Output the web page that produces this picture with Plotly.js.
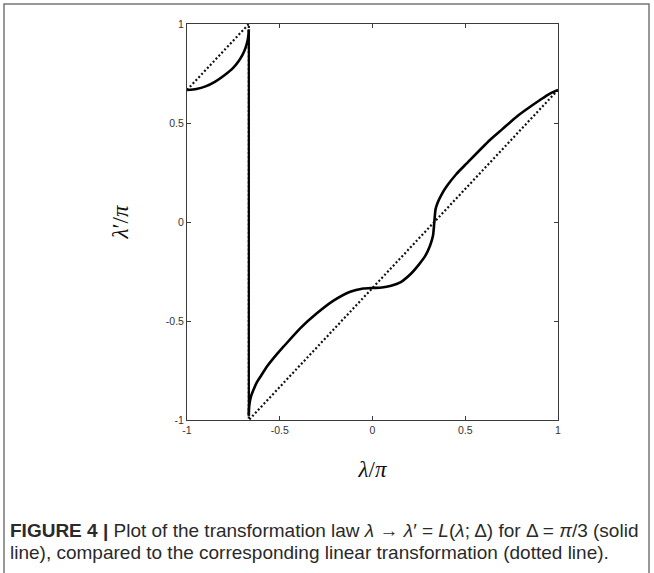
<!DOCTYPE html>
<html>
<head>
<meta charset="utf-8">
<script src="https://cdn.plot.ly/plotly-3.0.1.min.js"></script>
<style>
html,body{margin:0;padding:0;background:#fff;}
#chart{width:654px;height:573px;}
</style>
</head>
<body>
<div id="chart"></div>
<script>
// Solid curve: transformation law L(lambda; Delta), Delta = pi/3 (values in units of pi)
const leftArcX = [-1, -0.95, -0.90, -0.85, -0.80, -0.75, -0.72, -0.70, -0.685, -0.675, -0.670, -0.6675, -0.6667];
const leftArcY = [0.667, 0.672, 0.685, 0.708, 0.740, 0.780, 0.815, 0.845, 0.878, 0.910, 0.935, 0.952, 0.972];

const jumpX = [-0.6667, -0.6667];
const jumpY = [0.972, -0.978];

const rightArcX = [-0.6667, -0.6662, -0.665, -0.661, -0.652, -0.642, -0.625, -0.60, -0.57, -0.52, -0.48, -0.39, -0.30, -0.21, -0.12, -0.05, 0, 0.05, 0.10, 0.15, 0.20, 0.25, 0.285, 0.31, 0.326, 0.3333, 0.340, 0.350, 0.37, 0.40, 0.45, 0.508, 0.633, 0.70, 0.777, 0.85, 0.903, 0.95, 1.0];
const rightArcY = [-0.978, -0.955, -0.935, -0.905, -0.872, -0.848, -0.812, -0.775, -0.731, -0.672, -0.630, -0.537, -0.461, -0.397, -0.352, -0.336, -0.333, -0.331, -0.322, -0.305, -0.268, -0.215, -0.170, -0.120, -0.070, 0.0, 0.065, 0.095, 0.135, 0.180, 0.240, 0.296, 0.414, 0.469, 0.532, 0.582, 0.616, 0.645, 0.667];

// Dotted: corresponding linear transformation
const linearX = [-1, -0.6667, -0.6667, 1];
const linearY = [0.667, 1, -1, 0.667];

const tickVals = [-1, -0.5, 0, 0.5, 1];
const tickText = ['-1', '-0.5', '0', '0.5', '1'];

const captionLine1 = '<b>FIGURE 4 |</b> Plot of the transformation law <i>λ</i> → <i>λ</i>′ = <i>L</i>(<i>λ</i>; Δ) for Δ = <i>π</i>/3 (solid';
const captionLine2 = 'line), compared to the corresponding linear transformation (dotted line).';

const L = 187, R = 558, T = 24, B = 420;
const W = R - L, H = B - T;
const px = v => (v - L) / W;
const py = v => (B - v) / H;

const traces = [
  {x: linearX, y: linearY, mode: 'lines', line: {color: '#111', width: 2.2, dash: '2px,2.2px'}, hoverinfo: 'skip'},
  {x: leftArcX, y: leftArcY, mode: 'lines', line: {color: '#000', width: 2.6, shape: 'spline', smoothing: 0.6}},
  {x: jumpX, y: jumpY, mode: 'lines', line: {color: '#000', width: 2.2}},
  {x: rightArcX, y: rightArcY, mode: 'lines', line: {color: '#000', width: 2.6, shape: 'spline', smoothing: 0.6}}
];

const axisCommon = {
  range: [-1, 1], showgrid: false, zeroline: false, showline: true, linecolor: '#3a3a3a', linewidth: 1,
  mirror: 'ticks', ticks: 'inside', ticklen: 4, tickwidth: 1, tickcolor: '#3a3a3a',
  tickmode: 'array', tickvals: tickVals, ticktext: tickText,
  tickfont: {family: 'Liberation Sans, Arial, sans-serif', size: 10.5, color: '#333'}
};

const captionFont = {family: 'Liberation Sans, Arial, sans-serif', size: 19, color: '#2a2a2a'};

const layout = {
  width: 654, height: 573,
  margin: {l: L, r: 654 - R, t: T, b: 573 - B},
  paper_bgcolor: '#fff', plot_bgcolor: '#fff',
  showlegend: false,
  xaxis: Object.assign({}, axisCommon, {
    title: {text: '<i>λ</i>/<i>π</i>', font: {family: 'Liberation Serif, serif', size: 23, color: '#111'}, standoff: 26}
  }),
  yaxis: Object.assign({}, axisCommon, {
    title: {text: '<i>λ</i>′/<i>π</i>', font: {family: 'Liberation Serif, serif', size: 23, color: '#111'}, standoff: 30}
  }),
  shapes: [
    {type: 'rect', xref: 'paper', yref: 'paper', x0: px(4), x1: px(649), y0: py(585), y1: py(4),
     line: {color: '#777', width: 1.5}, fillcolor: 'rgba(0,0,0,0)', layer: 'below'}
  ],
  annotations: [
    {text: captionLine1, xref: 'paper', yref: 'paper', x: px(8), y: py(530), xanchor: 'left', yanchor: 'middle',
     showarrow: false, align: 'left', font: captionFont},
    {text: captionLine2, xref: 'paper', yref: 'paper', x: px(8), y: py(552), xanchor: 'left', yanchor: 'middle',
     showarrow: false, align: 'left', font: captionFont}
  ]
};

Plotly.newPlot('chart', traces, layout, {displayModeBar: false, staticPlot: true});
</script>
</body>
</html>
